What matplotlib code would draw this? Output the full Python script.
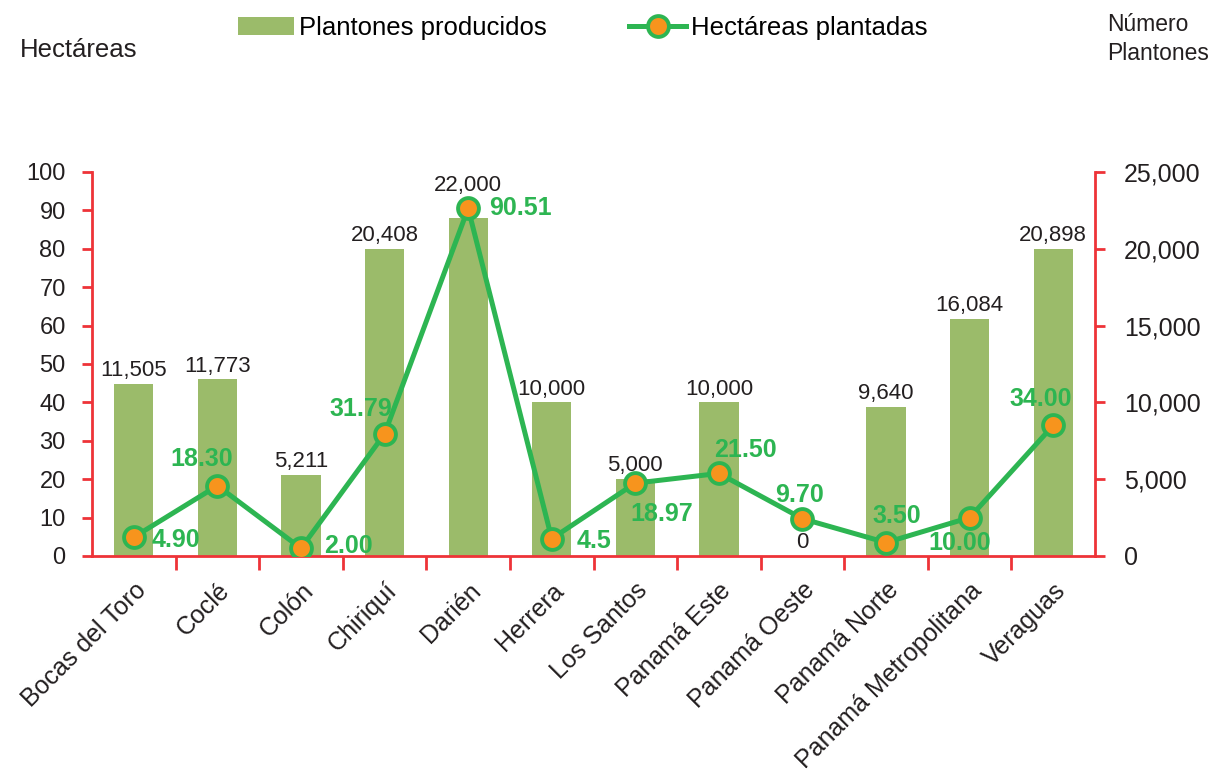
import numpy as np
import matplotlib
matplotlib.use("Agg")
import matplotlib.pyplot as plt
from matplotlib.patches import Patch
from matplotlib.lines import Line2D

plt.rcParams["font.family"] = ["Liberation Sans", "DejaVu Sans"]

# datos
regiones = ["Bocas del Toro", "Coclé", "Colón", "Chiriquí", "Darién", "Herrera",
            "Los Santos", "Panamá Este", "Panamá Oeste", "Panamá Norte",
            "Panamá Metropolitana", "Veraguas"]
# etiquetas impresas sobre las barras
plantones = [11505, 11773, 5211, 20408, 22000, 10000, 5000, 10000, 0, 9640, 16084, 20898]
# altura de las barras tal como se ven en el grafico
altura_barras = [11200, 11500, 5270, 20000, 22000, 10000, 5000, 10000, 0, 9700, 15450, 20000]
hectareas = [4.90, 18.30, 2.00, 31.79, 90.51, 4.5, 18.97, 21.50, 9.70, 3.50, 10.00, 34.00]
etiquetas_ha = ["4.90", "18.30", "2.00", "31.79", "90.51", "4.5", "18.97", "21.50",
                "9.70", "3.50", "10.00", "34.00"]

# posicion de etiquetas de la linea (puntos)
offsets = [(13, -2), (-11, 19), (17, 2), (-17, 18), (15, 0), (18, -2),
           (19, -22), (19, 17), (-2, 17), (8, 19), (-7, -18), (-9, 19)]
aligns = ["left", "center", "left", "center", "left", "left",
          "center", "center", "center", "center", "center", "center"]
# separacion de etiquetas de barras (puntos)
pad_barras = [2, 2, 2, 2, 16, 2, 2, 2, 2, 2, 2, 2]

ROJO = "#ee3338"
VERDE = "#2db552"
BARRA = "#9bbb6a"
NARANJA = "#f7941d"
TEXTO = "#231f20"

fig = plt.figure(figsize=(12.14, 7.75), dpi=100)
ax = fig.add_axes([0.0758, 0.2826, 0.8262, 0.4955])
ax2 = ax.twinx()

x = np.arange(len(regiones))

# barras en eje derecho
ax2.bar(x, altura_barras, width=0.47, color=BARRA, zorder=1)
for xi, h, v, p in zip(x, altura_barras, plantones, pad_barras):
    ax2.annotate(f"{v:,}", (xi, h), xytext=(0, p), textcoords="offset points",
                 ha="center", va="bottom", fontsize=16, color=TEXTO)
ax2.set_ylim(0, 25000)
ax2.set_yticks(np.arange(0, 25001, 5000))
ax2.set_yticklabels([f"{v:,}" for v in range(0, 25001, 5000)])

# linea en eje izquierdo
ax.plot(x, hectareas, color=VERDE, lw=3.6, marker="o", markersize=15,
        markerfacecolor=NARANJA, markeredgecolor=VERDE, markeredgewidth=2.8, zorder=3)
for xi, yi, t, off, ha in zip(x, hectareas, etiquetas_ha, offsets, aligns):
    ax.annotate(t, (xi, yi), xytext=off, textcoords="offset points", ha=ha, va="center",
                fontsize=18, fontweight="bold", color=VERDE, zorder=4)
ax.set_ylim(0, 100)
ax.set_yticks(np.arange(0, 101, 10))
ax.set_xlim(-0.5, len(regiones) - 0.5)

ax.set_zorder(ax2.get_zorder() + 1)
ax.patch.set_visible(False)

for a in (ax, ax2):
    a.spines["top"].set_visible(False)
    for s in ("left", "right", "bottom"):
        a.spines[s].set_color(ROJO)
        a.spines[s].set_linewidth(2)
ax.spines["right"].set_visible(False)
ax2.spines["left"].set_visible(False)
ax2.spines["bottom"].set_visible(False)

ax.tick_params(axis="y", colors=ROJO, length=7, width=2, labelsize=17,
               labelcolor=TEXTO, pad=12)
ax2.tick_params(axis="y", colors=ROJO, length=7, width=2, labelsize=18,
                labelcolor=TEXTO, pad=14)

ax.set_xticks(x)
ax.set_xticklabels(regiones, rotation=45, ha="right", rotation_mode="anchor",
                   fontsize=18, color=TEXTO)
ax.tick_params(axis="x", which="major", length=0, pad=16)
ax.set_xticks(np.arange(0.5, len(regiones) - 1), minor=True)
ax.tick_params(axis="x", which="minor", colors=ROJO, length=10, width=2)

# leyenda
handles = [Patch(facecolor=BARRA, edgecolor="none"),
           Line2D([], [], color=VERDE, lw=3.6, marker="o", markersize=15,
                  markerfacecolor=NARANJA, markeredgecolor=VERDE, markeredgewidth=2.8)]
fig.legend(handles, ["Plantones producidos", "Hectáreas plantadas"], ncol=2,
           loc="center", bbox_to_anchor=(0.48, 0.964), frameon=False, fontsize=18.5,
           handlelength=2.2, handleheight=0.75, handletextpad=0.2, columnspacing=3.2)

fig.text(0.016, 0.935, "Hectáreas", fontsize=18.5, color=TEXTO, va="center")
fig.text(0.912, 0.950, "Número\nPlantones", fontsize=16.5, color=TEXTO, va="center",
         linespacing=1.35)

fig.savefig("out.png", dpi=100)
